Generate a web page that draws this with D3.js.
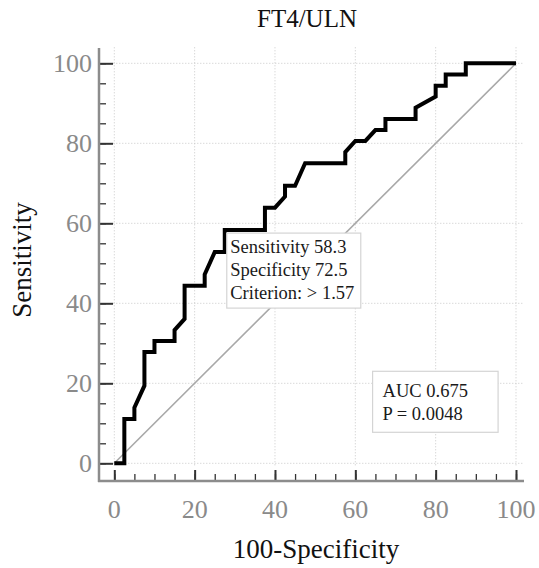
<!DOCTYPE html>
<html>
<head>
<meta charset="utf-8">
<script src="https://cdn.jsdelivr.net/npm/d3@7"></script>
<style>
  html, body { margin: 0; padding: 0; background: #fff; }
  svg { display: block; }
  svg text { font-family: "Liberation Serif", "DejaVu Serif", "Times New Roman", Times, serif; }
</style>
</head>
<body>
<svg id="chart" width="539" height="568"></svg>
<script>
// ---- Data ----
const title = "FT4/ULN";
const xTitle = "100-Specificity";
const yTitle = "Sensitivity";
const tickValues = [0, 20, 40, 60, 80, 100];
const minorTickValues = d3.range(0, 101, 5);
// ROC curve vertices: 100-Specificity (x) and Sensitivity (y)
const rocX = [0, 2.5, 2.5, 5, 5, 7.5, 7.5, 10, 10, 15, 15, 17.5, 17.5, 22.5, 22.5, 25, 27.5, 27.5, 37.5, 37.5,
              40, 42.5, 42.5, 45, 47.5, 57.5, 57.5, 60, 62.5, 65, 67.5, 67.5, 75, 75, 80, 80, 82.5, 82.5, 87.5, 87.5, 100];
const rocY = [0, 0, 11.1, 11.1, 13.9, 19.4, 27.8, 27.8, 30.6, 30.6, 33.3, 36.1, 44.4, 44.4, 47.2, 52.8, 52.8, 58.3, 58.3, 63.9,
              63.9, 66.7, 69.4, 69.4, 75, 75, 77.8, 80.6, 80.6, 83.3, 83.3, 86.1, 86.1, 88.9, 91.7, 94.4, 94.4, 97.2, 97.2, 100, 100];
const diagX = [0, 100];
const diagY = [0, 100];
const criterionPoint = [27.5, 58.3];
const criterionLines = ["Sensitivity 58.3", "Specificity 72.5", "Criterion: > 1.57"];
const aucLines = ["AUC 0.675", "P = 0.0048"];
const aucBoxAnchor = [64.3, 23]; // data position of the AUC box top-left

// ---- Layout ----
const FONT = '"Liberation Serif", "DejaVu Serif", "Times New Roman", Times, serif';
const svg = d3.select("#chart").attr("font-family", FONT);
const x = d3.scaleLinear().domain([0, 100]).range([114.3, 516]);
const y = d3.scaleLinear().domain([0, 100]).range([463.3, 63.3]);
const axisX = 99;     // y-axis line position
const axisY = 481;    // x-axis line position

// Grid (dotted)
const grid = svg.append("g").attr("stroke", "#c8c8c8").attr("stroke-width", 1).attr("stroke-dasharray", "1,2");
grid.selectAll(".gx").data(tickValues).join("line")
  .attr("x1", d => x(d)).attr("x2", d => x(d))
  .attr("y1", y(100) - 16).attr("y2", y(0) + 3);
grid.selectAll(".gy").data(tickValues).join("line")
  .attr("y1", d => y(d)).attr("y2", d => y(d))
  .attr("x1", x(0) - 1).attr("x2", x(100) + 8);

// Diagonal reference line
svg.append("line")
  .attr("x1", x(diagX[0])).attr("y1", y(diagY[0]))
  .attr("x2", x(diagX[1])).attr("y2", y(diagY[1]))
  .attr("stroke", "#a8a8a8").attr("stroke-width", 1.6);

// X axis (ticks pointing inward / up)
const xAxisMajor = d3.axisTop(x).tickValues(tickValues).tickSize(11).tickFormat("");
const xAxisMinor = d3.axisTop(x).tickValues(minorTickValues).tickSize(7).tickFormat("");
const gxm = svg.append("g").attr("transform", `translate(0,${axisY})`).call(xAxisMinor);
const gxM = svg.append("g").attr("transform", `translate(0,${axisY})`).call(xAxisMajor);
[gxm, gxM].forEach(g => { g.select(".domain").remove(); });
gxm.selectAll(".tick line").attr("stroke", "#333").attr("stroke-width", 1.3);
gxM.selectAll(".tick line").attr("stroke", "#333").attr("stroke-width", 2);

// Y axis (ticks pointing inward / right)
const yAxisMajor = d3.axisRight(y).tickValues(tickValues).tickSize(14).tickFormat("");
const yAxisMinor = d3.axisRight(y).tickValues(minorTickValues).tickSize(7).tickFormat("");
const gym = svg.append("g").attr("transform", `translate(${axisX},0)`).call(yAxisMinor);
const gyM = svg.append("g").attr("transform", `translate(${axisX},0)`).call(yAxisMajor);
[gym, gyM].forEach(g => { g.select(".domain").remove(); });
gym.selectAll(".tick line").attr("stroke", "#333").attr("stroke-width", 1.3);
gyM.selectAll(".tick line").attr("stroke", "#333").attr("stroke-width", 2);

// Axis lines
svg.append("line").attr("x1", axisX).attr("x2", axisX).attr("y1", 48).attr("y2", axisY + 1)
  .attr("stroke", "#8c8c8c").attr("stroke-width", 2.5);
svg.append("line").attr("x1", axisX - 1).attr("x2", 524).attr("y1", axisY).attr("y2", axisY)
  .attr("stroke", "#8c8c8c").attr("stroke-width", 2.5);

// Tick labels
svg.append("g").selectAll("text").data(tickValues).join("text")
  .attr("x", d => x(d)).attr("y", 518)
  .attr("text-anchor", "middle").attr("font-size", 26).attr("fill", "#8a8a8a")
  .attr("font-family", FONT)
  .text(d => d);
svg.append("g").selectAll("text").data(tickValues).join("text")
  .attr("x", 92).attr("y", d => y(d) + 9)
  .attr("text-anchor", "end").attr("font-size", 26).attr("fill", "#8a8a8a")
  .attr("font-family", FONT)
  .text(d => d);

// ROC curve
const rocPts = rocX.map((v, i) => [v, rocY[i]]);
svg.append("path")
  .attr("d", d3.line().x(d => x(d[0])).y(d => y(d[1]))(rocPts))
  .attr("fill", "none").attr("stroke", "#000").attr("stroke-width", 4)
  .attr("stroke-linejoin", "miter");

// Text boxes
const fs = 18.5, lh = 23;
function textBox(left, top, width, height, lines, padX, firstBase) {
  const g = svg.append("g");
  g.append("rect").attr("x", left).attr("y", top).attr("width", width).attr("height", height)
    .attr("fill", "#fff").attr("stroke", "#d4d4d4").attr("stroke-width", 1.2);
  g.selectAll("text").data(lines).join("text")
    .attr("x", left + padX).attr("y", (d, i) => top + firstBase + i * lh)
    .attr("font-size", fs).attr("fill", "#1a1a1a").attr("font-family", FONT).text(d => d);
}
textBox(x(criterionPoint[0]) + 2, y(criterionPoint[1]) + 3, 134, 75, criterionLines, 3.5, 20);
textBox(x(aucBoxAnchor[0]), y(aucBoxAnchor[1]), 125.5, 61, aucLines, 10, 25.5);

// Titles
svg.append("text").attr("x", 307).attr("y", 27).attr("text-anchor", "middle")
  .attr("font-size", 25).attr("fill", "#111").attr("font-family", FONT).text(title);
svg.append("text").attr("x", 316).attr("y", 558).attr("text-anchor", "middle")
  .attr("font-size", 27).attr("fill", "#111").attr("font-family", FONT).text(xTitle);
svg.append("text").attr("transform", "translate(31,260) rotate(-90)").attr("text-anchor", "middle")
  .attr("font-size", 27).attr("fill", "#111").attr("font-family", FONT).text(yTitle);
</script>
</body>
</html>
